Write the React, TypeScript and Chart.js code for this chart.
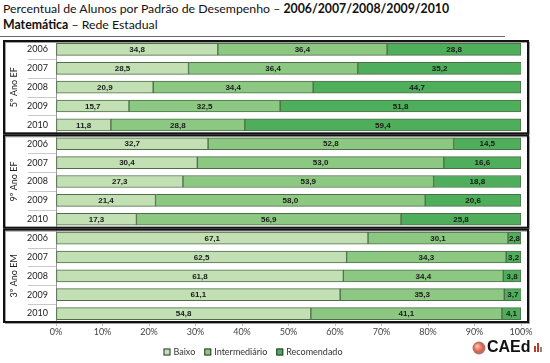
import React, { useEffect, useRef } from "react";
import { Chart, registerables } from "chart.js";

Chart.register(...registerables);

const years = ["2006", "2007", "2008", "2009", "2010"];
const groups = ["5º Ano EF", "9º Ano EF", "3º Ano EM"];
const seriesNames = ["Baixo", "Intermediário", "Recomendado"];
const seriesColors = ["#c3e0b5", "#8dc883", "#4fae5b"];

const baixo = [34.8, 28.5, 20.9, 15.7, 11.8, 32.7, 30.4, 27.3, 21.4, 17.3, 67.1, 62.5, 61.8, 61.1, 54.8];
const intermediario = [36.4, 36.4, 34.4, 32.5, 28.8, 52.8, 53.0, 53.9, 58.0, 56.9, 30.1, 34.3, 34.4, 35.3, 41.1];
const recomendado = [28.8, 35.2, 44.7, 51.8, 59.4, 14.5, 16.6, 18.8, 20.6, 25.8, 2.8, 3.2, 3.8, 3.7, 4.1];

const labels = groups.flatMap(() => years);

const fmt = (v: number) => v.toFixed(1).replace(".", ",");
const SMALL = "Lato, 'Liberation Sans', sans-serif";

const decorPlugin = {
  id: "decor",
  afterDatasetsDraw(chart: any) {
    const { ctx, chartArea } = chart;
    const step = (chartArea.bottom - chartArea.top) / labels.length;
    ctx.save();
    // value labels
    ctx.font = "bold 8px 'Liberation Sans', Arial, sans-serif";
    ctx.fillStyle = "#1a1a1a";
    ctx.textAlign = "center";
    ctx.textBaseline = "middle";
    chart.data.datasets.forEach((ds: any, di: number) => {
      const meta = chart.getDatasetMeta(di);
      meta.data.forEach((el: any, i: number) => {
        const cx = (el.x + el.base) / 2;
        ctx.fillText(fmt(ds.data[i]), cx, el.y + 0.5);
      });
    });
    // separators in label column
    ctx.strokeStyle = "#c8c8c8";
    ctx.lineWidth = 1;
    for (let i = 1; i < labels.length; i++) {
      if (i % 5 === 0) continue;
      const yy = Math.round(chartArea.top + i * step) + 0.5;
      ctx.beginPath();
      ctx.moveTo(28, yy);
      ctx.lineTo(chartArea.left, yy);
      ctx.stroke();
    }
    // group boxes
    groups.forEach((g, gi) => {
      const top = chartArea.top + gi * 5 * step;
      const bot = top + 5 * step;
      ctx.strokeStyle = "#a0a0a0";
      ctx.lineWidth = 1;
      ctx.strokeRect(5.5, top + 2.5, 524, bot - top - 2);
      ctx.strokeStyle = "#111";
      ctx.lineWidth = 2;
      ctx.strokeRect(4, top + 1, 524, bot - top - 2);
      // group label
      ctx.save();
      ctx.translate(14, (top + bot) / 2);
      ctx.rotate(-Math.PI / 2);
      ctx.font = "9px " + SMALL;
      ctx.fillStyle = "#222";
      ctx.textAlign = "center";
      ctx.textBaseline = "middle";
      ctx.fillText(g, 0, 0);
      ctx.restore();
    });
    // legend (measured, centred)
    const ly = 352;
    ctx.font = "9px " + SMALL;
    ctx.textAlign = "left";
    ctx.textBaseline = "middle";
    const box = 7;
    const gapIn = 3;
    const gapOut = 9;
    const widths = seriesNames.map((n) => box + gapIn + ctx.measureText(n).width);
    const total = widths.reduce((a, b) => a + b, 0) + gapOut * (widths.length - 1);
    let x = 253 - total / 2;
    seriesNames.forEach((n, i) => {
      ctx.fillStyle = seriesColors[i];
      ctx.fillRect(x, ly - 3.5, box, box);
      ctx.strokeStyle = "#333";
      ctx.lineWidth = 1;
      ctx.strokeRect(x + 0.5, ly - 3, box - 1, box - 1);
      ctx.fillStyle = "#333";
      ctx.fillText(n, x + box + gapIn, ly);
      x += widths[i] + gapOut;
    });
    // logo
    const grd = ctx.createRadialGradient(477, 346, 1, 479, 348, 7);
    grd.addColorStop(0, "#f2b8a8");
    grd.addColorStop(0.6, "#d9604a");
    grd.addColorStop(1, "#8a8a8a");
    ctx.fillStyle = grd;
    ctx.beginPath();
    ctx.arc(479, 348, 6.5, 0, Math.PI * 2);
    ctx.fill();
    ctx.fillStyle = "#111";
    ctx.font = "bold 16px 'Liberation Sans', Arial, sans-serif";
    ctx.textBaseline = "middle";
    ctx.fillText("CAEd", 487, 348);
    ctx.fillStyle = "#c0392b";
    ctx.fillRect(534, 346, 2, 6);
    ctx.fillRect(537, 343, 2, 9);
    ctx.fillStyle = "#888";
    ctx.fillRect(540, 347, 2, 5);
    ctx.restore();
  },
};

export default function App() {
  const ref = useRef<HTMLCanvasElement>(null);
  useEffect(() => {
    document.body.style.margin = "0";
    const chart = new Chart(ref.current!, {
      type: "bar",
      data: {
        labels,
        datasets: [baixo, intermediario, recomendado].map((d, i) => ({
          label: seriesNames[i],
          data: d,
          backgroundColor: seriesColors[i],
          borderColor: "#4d6e48",
          borderWidth: 1,
          borderSkipped: false,
          barThickness: 12,
        })),
      },
      options: {
        indexAxis: "y",
        responsive: false,
        animation: false,
        layout: { padding: { top: 40, right: 29, left: 0, bottom: 0 } },
        plugins: { legend: { display: false }, tooltip: { enabled: false } },
        scales: {
          x: {
            stacked: true,
            min: 0,
            max: 100,
            ticks: {
              stepSize: 10,
              callback: (v: any) => v + "%",
              font: { size: 9, family: SMALL },
              color: "#444",
              padding: 1,
            },
            grid: { drawOnChartArea: false, drawTicks: true, tickLength: 3, color: "#bbb" },
            border: { display: false },
            afterFit: (s: any) => {
              s.height = 40;
            },
          },
          y: {
            stacked: true,
            ticks: {
              font: { size: 9, family: SMALL },
              color: "#222",
              padding: 8,
              autoSkip: false,
            },
            grid: { drawOnChartArea: false, drawTicks: false },
            border: { display: true, color: "#999" },
            afterFit: (s: any) => {
              s.width = 56;
            },
          },
        },
      },
      plugins: [decorPlugin],
    });
    return () => chart.destroy();
  }, []);
  return (
    <div style={{ position: "fixed", left: 0, top: 0, width: 550, height: 363, background: "#fff" }}>
      <div
        style={{
          position: "absolute",
          left: 3,
          top: 1,
          fontFamily: "Lato, 'Liberation Sans', sans-serif",
          fontSize: 12.3,
          lineHeight: "16px",
          color: "#111",
          whiteSpace: "nowrap",
        }}
      >
        <div>
          Percentual de Alunos por Padrão de Desempenho – <b>2006/2007/2008/2009/2010</b>
        </div>
        <div>
          <b>Matemática</b> – Rede Estadual
        </div>
      </div>
      <div style={{ position: "absolute", left: 0, top: 36, width: 505, height: 1, background: "#666" }} />
      <canvas ref={ref} width={550} height={363} style={{ position: "absolute", left: 0, top: 0 }} />
    </div>
  );
}
